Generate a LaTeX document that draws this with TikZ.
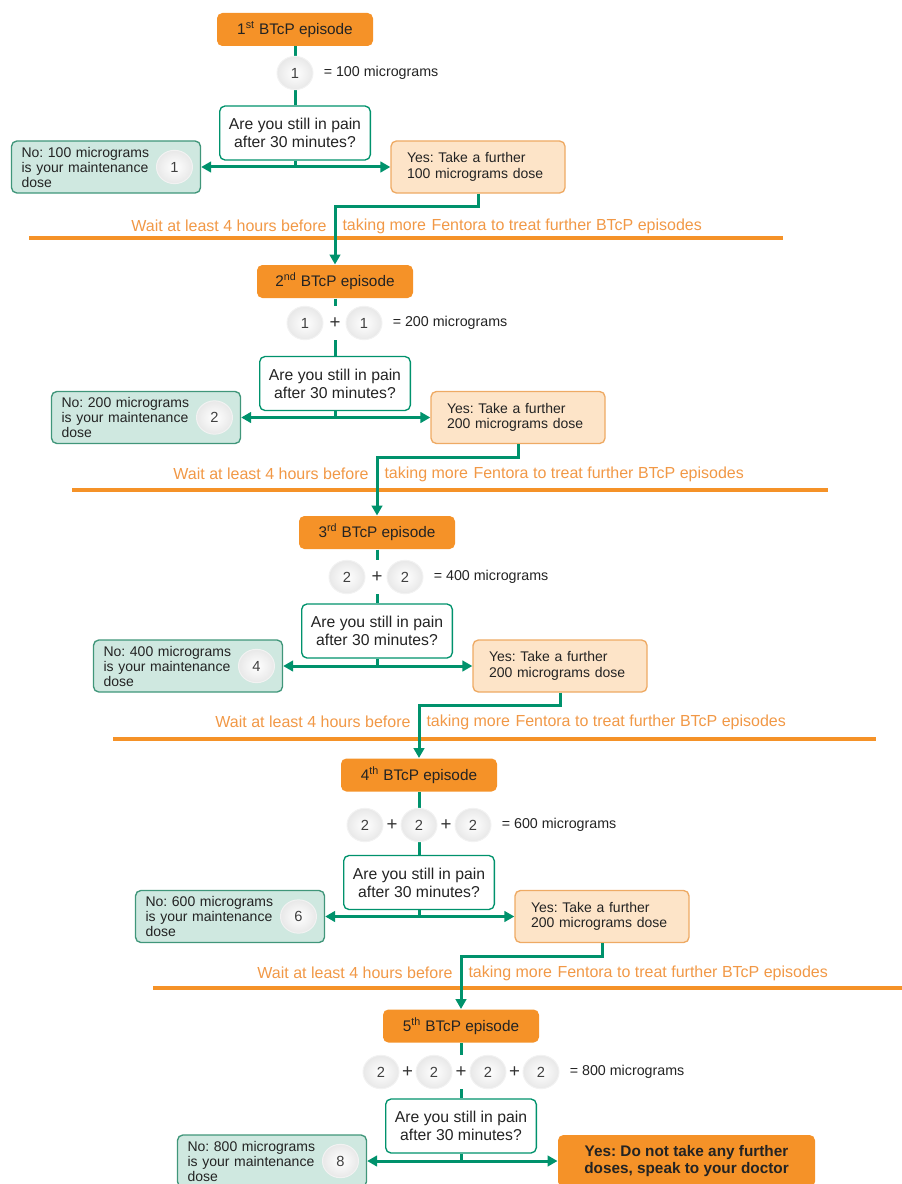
\documentclass[tikz,border=0pt]{standalone}
\usepackage{fontspec}
\setmainfont{Liberation Sans}
\usetikzlibrary{positioning,shapes.geometric,arrows.meta}

\definecolor{btcporange}{RGB}{245,146,40}
\definecolor{waitorange}{RGB}{241,152,70}
\definecolor{flowgreen}{RGB}{0,146,108}
\definecolor{nofill}{RGB}{207,232,224}
\definecolor{noedge}{RGB}{64,150,122}
\definecolor{yesfill}{RGB}{253,228,200}
\definecolor{yesedge}{RGB}{238,170,100}
\definecolor{txtgray}{RGB}{35,35,35}

\tikzset{every picture/.style={line width=0.75pt}}
\tikzset{
  episode/.style={fill=btcporange, rounded corners=4pt, minimum width=117pt, minimum height=24.75pt, inner sep=0pt, font=\fontsize{11.5}{13}\selectfont, text=txtgray},
  question/.style={draw=flowgreen, line width=1pt, fill=white, rounded corners=4pt, minimum width=113pt, minimum height=40.5pt, inner sep=0pt, align=center, font=\fontsize{11.8}{13.5}\selectfont, text=txtgray},
  nobox/.style={draw=noedge, line width=1pt, fill=nofill, rounded corners=4pt, minimum width=141.75pt, minimum height=39pt, text width=126.75pt, inner xsep=7.5pt, inner ysep=0pt, align=left, font=\fontsize{10.5}{11.25}\selectfont, text=txtgray},
  yesbox/.style={draw=yesedge, line width=1pt, fill=yesfill, rounded corners=4pt, minimum width=130.5pt, minimum height=39pt, text width=106.5pt, inner xsep=12pt, inner ysep=0pt, align=left, font=\fontsize{10.5}{11.75}\selectfont, text=txtgray},
  stopbox/.style={fill=btcporange, rounded corners=4pt, minimum width=192.75pt, minimum height=39pt, inner sep=0pt, align=center, font=\bfseries\fontsize{11.5}{12.75}\selectfont, text=txtgray},
  pill/.style={ellipse, draw=black!5, inner color=white, outer color=black!9, minimum width=27pt, minimum height=25pt, inner sep=0pt, font=\fontsize{11}{12}\selectfont, text=black!75},
  plussign/.style={fill=white, minimum height=25pt, inner sep=0.5pt, font=\fontsize{14}{14}\selectfont, text=black!80},
  dosetext/.style={font=\fontsize{10.7}{12}\selectfont, text=txtgray},
  waittext/.style={inner sep=0pt, font=\fontsize{12}{13}\selectfont, text=waitorange},
  bar/.style={draw=btcporange, line width=3.5pt},
  flow/.style={draw=flowgreen, line width=2.25pt},
  flowarrow/.style={flow, -{Triangle[length=7.5pt,width=8pt]}},
  branch/.style={flow, {Triangle[length=7.5pt,width=8pt]}-{Triangle[length=7.5pt,width=8pt]}}
}

\begin{document}
\frenchspacing
\begin{tikzpicture}[x=0.75pt,y=0.75pt,yscale=-1,xscale=1]
\useasboundingbox (0,0) rectangle (901,1184);

%Orange bars between the episodes
\draw[bar] (29,238) -- (783,238);
\draw[bar] (72,490) -- (828,490);
\draw[bar] (113,739) -- (876,739);
\draw[bar] (153,988) -- (911,988);

% Text Node
\node[waittext, anchor=east] (waitA1) at (327,226) {Wait at least 4 hours before};
\node[waittext, anchor=west] (waitB1) at (342,226) {taking more};
\node[waittext, anchor=west] (waitC1) at (431,226) {Fentora to treat further BTcP episodes};
\node[waittext, anchor=east] (waitA2) at (369,474) {Wait at least 4 hours before};
\node[waittext, anchor=west] (waitB2) at (384,474) {taking more};
\node[waittext, anchor=west] (waitC2) at (473,474) {Fentora to treat further BTcP episodes};
\node[waittext, anchor=east] (waitA3) at (411,722) {Wait at least 4 hours before};
\node[waittext, anchor=west] (waitB3) at (426,722) {taking more};
\node[waittext, anchor=west] (waitC3) at (515,722) {Fentora to treat further BTcP episodes};
\node[waittext, anchor=east] (waitA4) at (453,973) {Wait at least 4 hours before};
\node[waittext, anchor=west] (waitB4) at (468,973) {taking more};
\node[waittext, anchor=west] (waitC4) at (557,973) {Fentora to treat further BTcP episodes};

%Stage 1
\node[episode] (ep1) at (295,29.5) {1\textsuperscript{st} BTcP episode};
\node[question] (q1) at (295,133) {Are you still in pain\\after 30 minutes?};
\draw[flow] (ep1) -- (q1);
\node[pill] (dose11) at (295,73) {1};
\node[dosetext, right=4pt of dose11] (mg1) {= 100 micrograms};
\node[nobox] (no1) at (106,167) {No: 100 micrograms\\is your maintenance\\dose};
\node[pill] (nopill1) at ([xshift=-20pt]no1.east) {1};
\node[yesbox] (yes1) at (478,167) {Yes: Take a further\\100 micrograms dose};
\draw[flow] (q1.south) -- (q1.south |- no1.east);
\draw[branch] (no1.east) -- (yes1.west);

%Stage 2
\node[episode] (ep2) at (335,281.5) {2\textsuperscript{nd} BTcP episode};
\node[question] (q2) at (335,383.5) {Are you still in pain\\after 30 minutes?};
\draw[flowarrow] (yes1.south) -- ++(0,13) -| (ep2.north);
\draw[flow] (ep2) -- (q2);
\node[pill] (dose21) at (305,323) {1};
\node[plussign] (plus21) at (335,323) {+};
\node[pill] (dose22) at (364,323) {1};
\node[dosetext, right=4pt of dose22] (mg2) {= 200 micrograms};
\node[nobox] (no2) at (146,417.5) {No: 200 micrograms\\is your maintenance\\dose};
\node[pill] (nopill2) at ([xshift=-20pt]no2.east) {2};
\node[yesbox] (yes2) at (518,417.5) {Yes: Take a further\\200 micrograms dose};
\draw[flow] (q2.south) -- (q2.south |- no2.east);
\draw[branch] (no2.east) -- (yes2.west);

%Stage 3
\node[episode] (ep3) at (377,532.5) {3\textsuperscript{rd} BTcP episode};
\node[question] (q3) at (377,631) {Are you still in pain\\after 30 minutes?};
\draw[flowarrow] (yes2.south) -- ++(0,13) -| (ep3.north);
\draw[flow] (ep3) -- (q3);
\node[pill] (dose31) at (347,577) {2};
\node[plussign] (plus31) at (377,577) {+};
\node[pill] (dose32) at (405,577) {2};
\node[dosetext, right=4pt of dose32] (mg3) {= 400 micrograms};
\node[nobox] (no3) at (188,666) {No: 400 micrograms\\is your maintenance\\dose};
\node[pill] (nopill3) at ([xshift=-20pt]no3.east) {4};
\node[yesbox] (yes3) at (560,666) {Yes: Take a further\\200 micrograms dose};
\draw[flow] (q3.south) -- (q3.south |- no3.east);
\draw[branch] (no3.east) -- (yes3.west);

%Stage 4
\node[episode] (ep4) at (419,775) {4\textsuperscript{th} BTcP episode};
\node[question] (q4) at (419,882.5) {Are you still in pain\\after 30 minutes?};
\draw[flowarrow] (yes3.south) -- ++(0,13) -| (ep4.north);
\draw[flow] (ep4) -- (q4);
\node[pill] (dose41) at (365,825) {2};
\node[plussign] (plus41) at (392,825) {+};
\node[pill] (dose42) at (419,825) {2};
\node[plussign] (plus42) at (446,825) {+};
\node[pill] (dose43) at (473,825) {2};
\node[dosetext, right=4pt of dose43] (mg4) {= 600 micrograms};
\node[nobox] (no4) at (230,916.5) {No: 600 micrograms\\is your maintenance\\dose};
\node[pill] (nopill4) at ([xshift=-20pt]no4.east) {6};
\node[yesbox] (yes4) at (602,916.5) {Yes: Take a further\\200 micrograms dose};
\draw[flow] (q4.south) -- (q4.south |- no4.east);
\draw[branch] (no4.east) -- (yes4.west);

%Stage 5
\node[episode] (ep5) at (461,1026) {5\textsuperscript{th} BTcP episode};
\node[question] (q5) at (461,1126) {Are you still in pain\\after 30 minutes?};
\draw[flowarrow] (yes4.south) -- ++(0,13) -| (ep5.north);
\draw[flow] (ep5) -- (q5);
\node[pill] (dose51) at (381,1072) {2};
\node[plussign] (plus51) at (407.5,1072) {+};
\node[pill] (dose52) at (434,1072) {2};
\node[plussign] (plus52) at (461,1072) {+};
\node[pill] (dose53) at (488,1072) {2};
\node[plussign] (plus53) at (514.5,1072) {+};
\node[pill] (dose54) at (541,1072) {2};
\node[dosetext, right=4pt of dose54] (mg5) {= 800 micrograms};
\node[nobox] (no5) at (272,1161) {No: 800 micrograms\\is your maintenance\\dose};
\node[pill] (nopill5) at ([xshift=-20pt]no5.east) {8};
\node[stopbox] (stop5) at (686.5,1161) {Yes: Do not take any further\\doses, speak to your doctor};
\draw[flow] (q5.south) -- (q5.south |- no5.east);
\draw[branch] (no5.east) -- (stop5.west);

\end{tikzpicture}
\end{document}
